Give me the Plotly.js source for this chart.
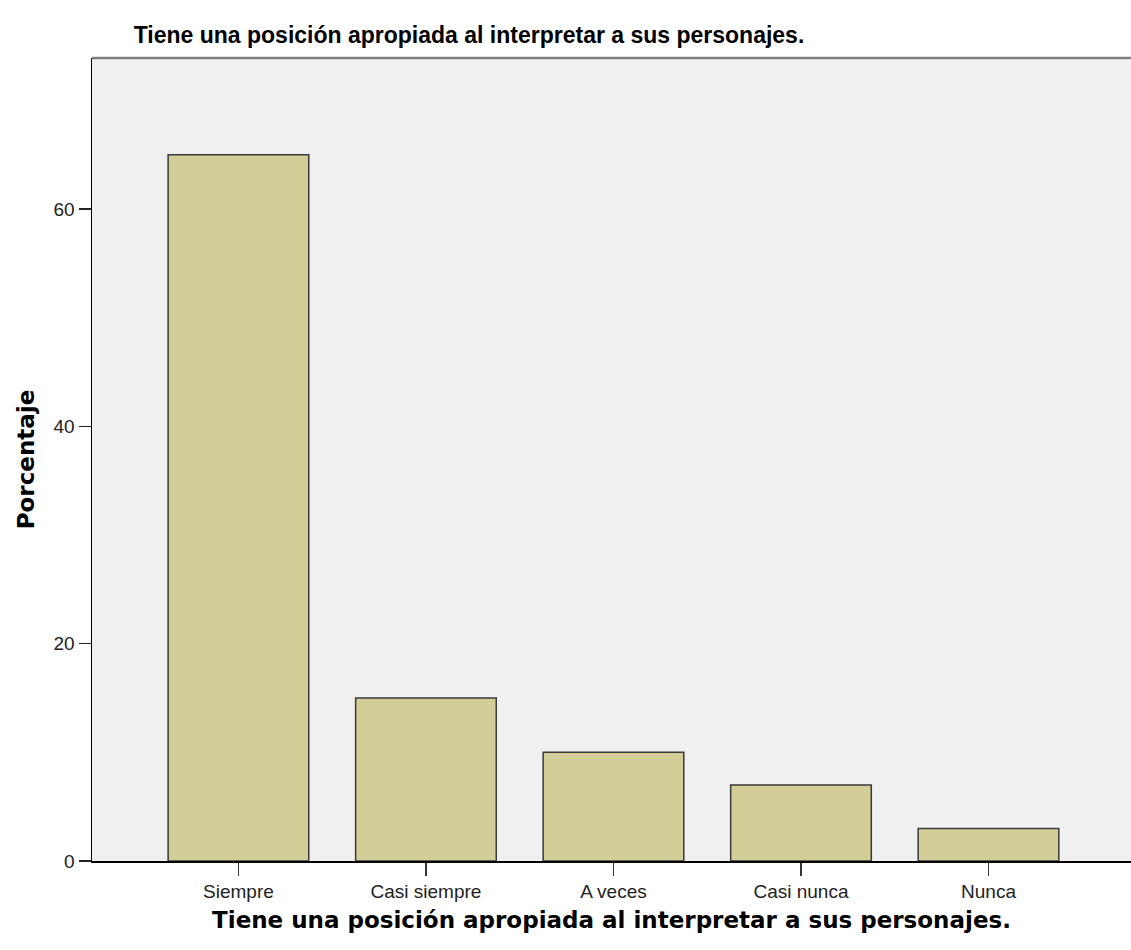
<!DOCTYPE html>
<html>
<head>
<meta charset="utf-8">
<script src="https://cdn.plot.ly/plotly-3.0.1.min.js"></script>
<style>html,body{margin:0;padding:0;background:#fff;}#chart{width:1131px;height:950px;}</style>
</head>
<body>
<div id="chart"></div>
<script>
const categories = ["Siempre", "Casi siempre", "A veces", "Casi nunca", "Nunca"];
const percentages = [65, 15, 10, 7, 3];
const yTickValues = [0, 20, 40, 60];
const chartTitle = "Tiene una posición apropiada al interpretar a sus personajes.";
const xTitle = "Tiene una posición apropiada al interpretar a sus personajes.";
const yTitle = "Porcentaje";

const trace = {
  type: "bar",
  x: categories,
  y: percentages,
  width: 0.75,
  marker: {color: "#d3ce97", line: {color: "#3a3a3a", width: 1.5}},
  hoverinfo: "x+y"
};

const layout = {
  width: 1131,
  height: 950,
  margin: {l: 92, r: 0, t: 58, b: 89},
  paper_bgcolor: "#ffffff",
  plot_bgcolor: "#f0f0f0",
  showlegend: false,
  title: {
    text: "<b>" + chartTitle + "</b>",
    font: {family: "Liberation Sans, Arial, sans-serif", size: 23, color: "#000"},
    xref: "container", x: 469/1131, xanchor: "center",
    yref: "container", y: 1 - 35/950, yanchor: "middle"
  },
  xaxis: {
    type: "category",
    range: [-0.781, 4.76],
    showgrid: false,
    zeroline: false,
    showline: true,
    linecolor: "#000",
    linewidth: 1.5,
    ticks: "outside",
    ticklen: 13,
    tickwidth: 1.5,
    tickcolor: "#333",
    tickfont: {family: "Liberation Sans, Arial, sans-serif", size: 19, color: "#222"},
    title: {
      text: "<b>" + xTitle + "</b>",
      font: {family: "DejaVu Sans, sans-serif", size: 23, color: "#000"},
      standoff: 10
    }
  },
  yaxis: {
    range: [0, 73.9],
    tickvals: yTickValues,
    ticktext: yTickValues.map(String),
    showgrid: false,
    zeroline: false,
    showline: true,
    linecolor: "#000",
    linewidth: 1.5,
    ticks: "outside",
    ticklen: 12,
    tickwidth: 1.5,
    tickcolor: "#222",
    tickfont: {family: "Liberation Sans, Arial, sans-serif", size: 19, color: "#222"},
    title: {
      text: "<b>" + yTitle + "</b>",
      font: {family: "DejaVu Sans, sans-serif", size: 23, color: "#000"},
      standoff: 12
    }
  },
  shapes: [{
    type: "line", xref: "paper", yref: "paper",
    x0: 0, x1: 1, y0: 1, y1: 1,
    line: {color: "#808080", width: 2.5}
  }]
};

Plotly.newPlot("chart", [trace], layout, {displayModeBar: false, staticPlot: true});
</script>
</body>
</html>
